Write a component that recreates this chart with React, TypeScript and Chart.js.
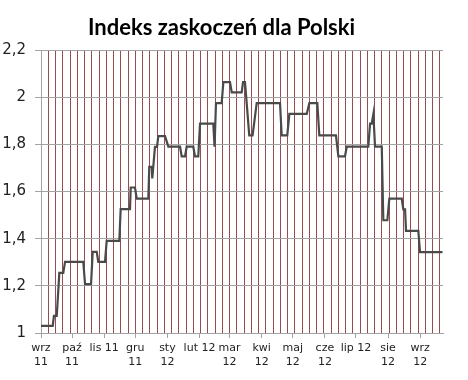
import { useEffect, useRef } from "react";
import { Chart, registerables } from "chart.js";

Chart.register(...registerables);

const chartTitle = "Indeks zaskoczeń dla Polski";

// change points of the index: days counted from 1 Sep 2011, and index value
const days = [
  0, 11.3, 12.5, 15.2, 17.7, 21.5, 23.2, 40.8, 42.5, 48.3,
  49.9, 53.8, 55.3, 61.8, 63.4, 75.6, 76.9, 85.9, 86.6, 90.7,
  92.4, 103.6, 104.5, 106.9, 107.4, 110, 112, 113.2, 119.7, 122.9,
  134.2, 135.8, 139, 140.6, 147, 148.6, 151.8, 153.5, 166.3, 167.5,
  168.9, 174.4, 176, 182.4, 184.1, 193.7, 195, 196.9, 201, 204.2,
  208.2, 230.7, 232.3, 237.7, 239.7, 256.5, 259, 266.7, 268.6, 284.7,
  287, 293.4, 295.1, 315.9, 317.6, 319.2, 320.8, 322.4, 328.9, 330.4,
  334.3, 336.2, 348.2, 349.7, 351.4, 352.3, 364.2, 365.8, 387.5,
];
const values = [
  1.03, 1.03, 1.073, 1.073, 1.255, 1.255, 1.302, 1.302, 1.207, 1.207,
  1.344, 1.344, 1.302, 1.302, 1.391, 1.391, 1.525, 1.525, 1.617, 1.617,
  1.57, 1.57, 1.704, 1.704, 1.655, 1.789, 1.789, 1.835, 1.835, 1.79,
  1.79, 1.749, 1.749, 1.79, 1.79, 1.749, 1.749, 1.888, 1.888, 1.79,
  1.975, 1.975, 2.064, 2.064, 2.02, 2.02, 2.064, 2.064, 1.838, 1.838,
  1.975, 1.975, 1.838, 1.838, 1.929, 1.929, 1.975, 1.975, 1.838, 1.838,
  1.749, 1.749, 1.79, 1.79, 1.888, 1.888, 1.929, 1.79, 1.79, 1.478,
  1.478, 1.57, 1.57, 1.524, 1.524, 1.433, 1.433, 1.343, 1.343,
];

// month starts (days from 1 Sep 2011) and their labels
const monthStarts = [0, 30, 61, 91, 122, 153, 182, 213, 243, 274, 304, 335, 366];
const monthLabels = [
  ["wrz", "11"], ["paź", "11"], ["lis 11"], ["gru", "11"], ["sty", "12"],
  ["lut 12"], ["mar", "12"], ["kwi", "12"], ["maj", "12"], ["cze", "12"],
  ["lip 12"], ["sie", "12"], ["wrz", "12"],
];
const xMax = 388;
const weekStep = 7;

const yTicks = [1, 1.2, 1.4, 1.6, 1.8, 2, 2.2];
const yTickLabels = ["1", "1,2", "1,4", "1,6", "1,8", "2", "2,2"];

const GRAY = "#a3a3a3";
const BROWN = "rgb(148,78,78)";

export default function App() {
  const ref = useRef<HTMLCanvasElement | null>(null);

  useEffect(() => {
    if (!ref.current) return;
    const weekSet = new Set<number>();
    for (let d = 0; d <= xMax; d += weekStep) weekSet.add(d);
    const allTicks = Array.from(new Set<number>([...weekSet, ...monthStarts])).sort((a, b) => a - b);

    const chart = new Chart(ref.current, {
      type: "line",
      data: {
        datasets: [
          {
            data: days.map((d, i) => ({ x: d, y: values[i] })),
            borderColor: "#4a4a4a",
            borderWidth: 2.2,
            pointRadius: 0,
            fill: false,
            tension: 0,
          },
        ],
      },
      options: {
        responsive: false,
        animation: false,
        layout: { padding: { left: 0, right: 5, top: 0, bottom: 0 } },
        plugins: {
          legend: { display: false },
          tooltip: { enabled: false },
          title: {
            display: true,
            text: chartTitle,
            color: "#000",
            font: { family: "Lato", size: 22, weight: "bold", lineHeight: 1.2 },
            padding: { top: 15, bottom: 8.6 },
          },
        },
        scales: {
          x: {
            type: "linear",
            min: 0,
            max: xMax,
            afterBuildTicks: (scale: any) => {
              scale.ticks = allTicks.map((v) => ({ value: v }));
            },
            afterFit: (scale: any) => {
              scale.height = 47;
            },
            ticks: {
              autoSkip: false,
              maxRotation: 0,
              minRotation: 0,
              padding: 3,
              color: "#222",
              font: { family: "DejaVu Sans", size: 11, lineHeight: 1.3 },
              callback: (v: any) => {
                const i = monthStarts.indexOf(Number(v));
                return i >= 0 ? monthLabels[i] : "";
              },
            },
            grid: {
              color: (ctx: any) =>
                ctx.tick && weekSet.has(ctx.tick.value) ? BROWN : "rgba(0,0,0,0)",
              tickColor: (ctx: any) =>
                ctx.tick && monthStarts.includes(ctx.tick.value) ? GRAY : "rgba(0,0,0,0)",
              tickLength: 5,
              lineWidth: 1,
            },
            border: { color: GRAY, width: 1 },
          },
          y: {
            type: "linear",
            min: 1,
            max: 2.2,
            afterBuildTicks: (scale: any) => {
              scale.ticks = yTicks.map((v) => ({ value: v }));
            },
            afterFit: (scale: any) => {
              scale.width = 41;
            },
            ticks: {
              padding: 9,
              color: "#222",
              font: { family: "DejaVu Sans", size: 15 },
              callback: (v: any) => {
                const i = yTicks.findIndex((t) => Math.abs(t - Number(v)) < 1e-6);
                return i >= 0 ? yTickLabels[i] : "";
              },
            },
            grid: { color: GRAY, tickColor: GRAY, tickLength: 6, lineWidth: 1 },
            border: { color: GRAY, width: 1 },
          },
        },
      },
    } as any);
    return () => chart.destroy();
  }, []);

  return (
    <div style={{ position: "fixed", left: 0, top: 0, width: 448, height: 380, background: "#fff" }}>
      <canvas ref={ref} width={448} height={380} style={{ display: "block" }} />
    </div>
  );
}
